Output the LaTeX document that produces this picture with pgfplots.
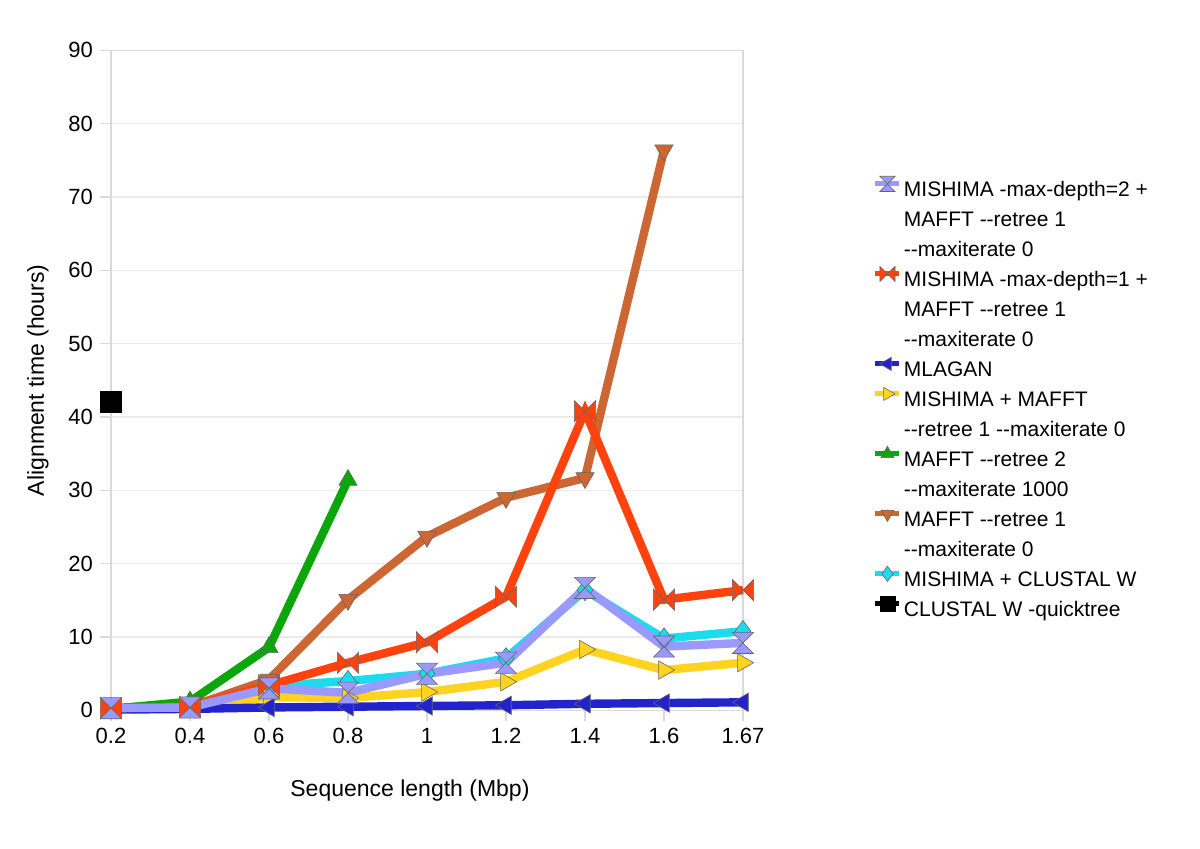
\documentclass[border=0pt]{standalone}
\usepackage{pgfplots}
\pgfplotsset{compat=1.18}
\usepackage{fontspec}
\setmainfont{Liberation Sans}[Ligatures=TeXOff]
\definecolor{clav}{HTML}{9999FF}
\definecolor{cred}{HTML}{FF420E}
\definecolor{cblue}{HTML}{2323CC}
\definecolor{cyel}{HTML}{FFD320}
\definecolor{cgreen}{HTML}{0AA60A}
\definecolor{cbrown}{HTML}{CC6633}
\definecolor{ccyan}{HTML}{1ADCEE}
\pgfdeclareplotmark{hourglass}{%
  \pgfpathmoveto{\pgfqpoint{-\pgfplotmarksize}{\pgfplotmarksize}}%
  \pgfpathlineto{\pgfqpoint{\pgfplotmarksize}{\pgfplotmarksize}}%
  \pgfpathlineto{\pgfqpoint{-\pgfplotmarksize}{-\pgfplotmarksize}}%
  \pgfpathlineto{\pgfqpoint{\pgfplotmarksize}{-\pgfplotmarksize}}%
  \pgfpathclose
  \pgfusepathqfillstroke}
\pgfdeclareplotmark{bowtie}{%
  \pgfpathmoveto{\pgfqpoint{-\pgfplotmarksize}{\pgfplotmarksize}}%
  \pgfpathlineto{\pgfqpoint{-\pgfplotmarksize}{-\pgfplotmarksize}}%
  \pgfpathlineto{\pgfqpoint{\pgfplotmarksize}{\pgfplotmarksize}}%
  \pgfpathlineto{\pgfqpoint{\pgfplotmarksize}{-\pgfplotmarksize}}%
  \pgfpathclose
  \pgfusepathqfillstroke}
\begin{document}
\begin{tikzpicture}
\useasboundingbox (-55.5pt,-69.3pt) rectangle (544.5pt,355.2pt);
\begin{axis}[
  at={(0,0)}, anchor=south west,
  scale only axis, width=316pt, height=330pt,
  xmin=0, xmax=8, ymin=0, ymax=90,
  xtick={0,...,8},
  xticklabels={0.2,0.4,0.6,0.8,1,1.2,1.4,1.6,1.67},
  ytick={0,10,...,90},
  xtick pos=lower, ytick pos=left,
  tick align=outside,
  major tick length=5.5pt,
  tick style={black!15, line width=0.6pt},
  axis line style={black!15, line width=0.6pt},
  ymajorgrids,
  grid style={black!8, line width=0.6pt},
  ticklabel style={font=\fontsize{11}{13}\selectfont},
  /pgf/number format/assume math mode=true,
  xlabel={Sequence length (Mbp)},
  ylabel={Alignment time (hours)},
  label style={font=\fontsize{11.5}{13}\selectfont},
  xlabel style={at={(axis description cs:0.473,0)}, anchor=center, yshift=-40pt},
  ylabel style={at={(axis description cs:0,0.5)}, anchor=center, yshift=36.5pt},
  clip=false,
  reverse legend,
  legend cell align=left,
  legend style={at={(1.205,0.8105)}, anchor=north west, draw=none, fill=none,
    font=\fontsize{10.5}{13}\selectfont, row sep=0pt, column sep=1pt,
    inner sep=0pt, nodes={inner sep=0pt, text height=10.5pt, text depth=4.5pt}},
  legend image code/.code={%
    \draw[#1, line width=2.5pt] (0pt,3.5pt) -- (12pt,3.5pt);
    \draw[#1, mark size=3.8pt] plot coordinates {(6pt,3.5pt)};},
  every axis plot/.append style={line width=4.2pt, mark size=5.3pt},
]
% drawn in reverse legend order
\addplot[black, mark=square*, mark options={fill=black, draw=black, line width=0.3pt}]
  coordinates {(0,42.1)};
\addlegendentry{CLUSTAL W -quicktree}
\addplot[ccyan, mark=diamond*, mark options={fill=ccyan, draw=black!60, line width=0.3pt}]
  coordinates {(0,0.3) (1,0.5) (2,3.3) (3,4.0) (4,5.0) (5,7.1) (6,16.4) (7,9.8) (8,10.8)};
\addlegendentry{MISHIMA + CLUSTAL W}
\addlegendimage{empty legend}\addlegendentry{--maxiterate 0}
\addplot[cbrown, mark=triangle*, mark options={rotate=180, fill=cbrown, draw=black!60, line width=0.3pt}]
  coordinates {(0,0.3) (1,0.5) (2,4.2) (3,15.1) (4,23.7) (5,29.0) (6,31.7) (7,76.4)};
\addlegendentry{MAFFT --retree 1}
\addlegendimage{empty legend}\addlegendentry{--maxiterate 1000}
\addplot[cgreen, mark=triangle*, mark options={fill=cgreen, draw=black!60, line width=0.3pt}]
  coordinates {(0,0.2) (1,1.2) (2,8.6) (3,31.4)};
\addlegendentry{MAFFT --retree 2}
\addlegendimage{empty legend}\addlegendentry{--retree 1 --maxiterate 0}
\addplot[cyel, mark=triangle*, mark options={rotate=-90, fill=cyel, draw=black!60, line width=0.3pt}]
  coordinates {(0,0.2) (1,0.4) (2,1.8) (3,1.7) (4,2.5) (5,3.9) (6,8.3) (7,5.5) (8,6.5)};
\addlegendentry{MISHIMA + MAFFT}
\addplot[cblue, mark=triangle*, mark options={rotate=90, fill=cblue, draw=black!60, line width=0.3pt}]
  coordinates {(0,0.1) (1,0.2) (2,0.4) (3,0.5) (4,0.6) (5,0.7) (6,0.9) (7,1.0) (8,1.1)};
\addlegendentry{MLAGAN}
\addlegendimage{empty legend}\addlegendentry{--maxiterate 0}
\addlegendimage{empty legend}\addlegendentry{MAFFT --retree 1}
\addplot[cred, mark=bowtie, mark options={fill=cred, draw=black!60, line width=0.3pt}]
  coordinates {(0,0.3) (1,0.5) (2,3.4) (3,6.5) (4,9.3) (5,15.5) (6,40.8) (7,15.1) (8,16.4)};
\addlegendentry{MISHIMA -max-depth=1 +}
\addlegendimage{empty legend}\addlegendentry{--maxiterate 0}
\addlegendimage{empty legend}\addlegendentry{MAFFT --retree 1}
\addplot[clav, mark=hourglass, mark options={fill=clav, draw=black!60, line width=0.3pt}]
  coordinates {(0,0.3) (1,0.4) (2,3.0) (3,2.4) (4,5.0) (5,6.5) (6,16.7) (7,8.7) (8,9.2)};
\addlegendentry{MISHIMA -max-depth=2 +}
\end{axis}
\end{tikzpicture}
\end{document}
